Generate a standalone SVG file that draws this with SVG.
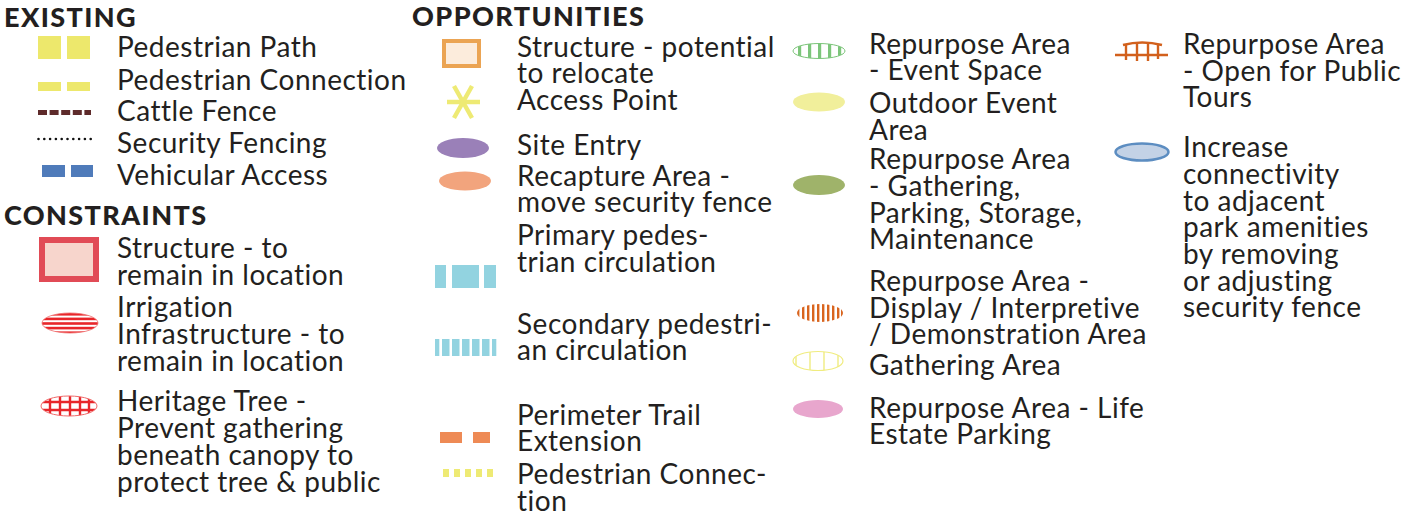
<svg xmlns="http://www.w3.org/2000/svg" width="1401" height="523" viewBox="0 0 1401 523">
  <style>
    .t { font-family: Lato, "Open Sans", sans-serif; font-size: 28px; letter-spacing: 0.5px; fill: #231f20; }
    .h { font-family: Lato, "Open Sans", sans-serif; font-size: 27px; letter-spacing: 1.4px; font-weight: 900; fill: #231f20; }
  </style>
  <defs>
    <clipPath id="clipIrr"><ellipse cx="70" cy="323" rx="28" ry="10"/></clipPath>
    <clipPath id="clipTree"><ellipse cx="69" cy="406" rx="28" ry="10"/></clipPath>
    <clipPath id="clipEvent"><ellipse cx="819" cy="51" rx="26" ry="7.5"/></clipPath>
    <clipPath id="clipDisplay"><ellipse cx="820" cy="313" rx="23" ry="9"/></clipPath>
    <clipPath id="clipGather"><ellipse cx="818" cy="361" rx="25" ry="9.5"/></clipPath>
  </defs>
  <rect width="1401" height="523" fill="#ffffff"/>

  <!-- Section headings -->
  <g id="headings">
    <text class="h" x="4" y="27">EXISTING</text>
    <text class="h" x="412" y="26">OPPORTUNITIES</text>
    <text class="h" x="4" y="225">CONSTRAINTS</text>
  </g>

  <!-- EXISTING -->
  <g id="pedestrian-path">
    <rect x="38" y="36" width="23" height="23" fill="#ede86c"/>
    <rect x="67" y="36" width="23" height="23" fill="#ede86c"/>
    <text class="t" x="117" y="57">Pedestrian Path</text>
  </g>
  <g id="pedestrian-connection">
    <rect x="38" y="82" width="23" height="9" fill="#ede86c"/>
    <rect x="67" y="82" width="23" height="9" fill="#ede86c"/>
    <text class="t" x="117" y="90">Pedestrian Connection</text>
  </g>
  <g id="cattle-fence">
    <line x1="38" y1="112.5" x2="91" y2="112.5" stroke="#5e2b2b" stroke-width="5" stroke-dasharray="9 2.6"/>
    <text class="t" x="117" y="121">Cattle Fence</text>
  </g>
  <g id="security-fencing">
    <line x1="38.5" y1="139" x2="91" y2="139" stroke="#111111" stroke-width="2.6" stroke-linecap="round" stroke-dasharray="0 5.8"/>
    <text class="t" x="117" y="153">Security Fencing</text>
  </g>
  <g id="vehicular-access">
    <rect x="42" y="165" width="23" height="12" fill="#4f7bba"/>
    <rect x="71" y="165" width="22" height="12" fill="#4f7bba"/>
    <text class="t" x="117" y="185">Vehicular Access</text>
  </g>

  <!-- CONSTRAINTS -->
  <g id="structure-remain">
    <rect x="42" y="240" width="54" height="39" fill="#f7d5cc" stroke="#e14b56" stroke-width="6"/>
    <text class="t" x="117" y="258">Structure - to</text>
    <text class="t" x="117" y="285">remain in location</text>
  </g>
  <g id="irrigation">
    <g clip-path="url(#clipIrr)">
      <rect x="42" y="313" width="56" height="20" fill="#ffffff"/>
      <g fill="#e8262a">
        <rect x="42" y="313" width="56" height="2.6"/>
        <rect x="42" y="317.6" width="56" height="2.6"/>
        <rect x="42" y="322.2" width="56" height="2.6"/>
        <rect x="42" y="326.8" width="56" height="2.6"/>
        <rect x="42" y="331.4" width="56" height="2.6"/>
      </g>
    </g>
    <ellipse cx="70" cy="323" rx="28" ry="10" fill="none" stroke="#f06a6a" stroke-width="0.8"/>
    <text class="t" x="117" y="317">Irrigation</text>
    <text class="t" x="117" y="344">Infrastructure - to</text>
    <text class="t" x="117" y="371">remain in location</text>
  </g>
  <g id="heritage-tree">
    <g clip-path="url(#clipTree)" stroke="#e8262a" stroke-width="2.4">
      <line x1="41" y1="402" x2="97" y2="402"/>
      <line x1="41" y1="410" x2="97" y2="410"/>
      <line x1="50" y1="395" x2="50" y2="417"/>
      <line x1="60" y1="395" x2="60" y2="417"/>
      <line x1="70" y1="395" x2="70" y2="417"/>
      <line x1="80" y1="395" x2="80" y2="417"/>
      <line x1="89" y1="395" x2="89" y2="417"/>
    </g>
    <ellipse cx="69" cy="406" rx="28" ry="10" fill="none" stroke="#f06a6a" stroke-width="1"/>
    <text class="t" x="117" y="411">Heritage Tree -</text>
    <text class="t" x="117" y="438">Prevent gathering</text>
    <text class="t" x="117" y="465">beneath canopy to</text>
    <text class="t" x="117" y="492">protect tree &amp; public</text>
  </g>

  <!-- OPPORTUNITIES -->
  <g id="structure-relocate">
    <rect x="444" y="41" width="35" height="25" fill="#fcecdc" stroke="#eba453" stroke-width="4"/>
    <text class="t" x="517" y="57">Structure - potential</text>
    <text class="t" x="517" y="83">to relocate</text>
  </g>
  <g id="access-point">
    <g stroke="#eeea74" stroke-width="4.5" stroke-linecap="butt">
      <line x1="447" y1="102" x2="480" y2="102"/>
      <line x1="454" y1="86" x2="472" y2="118"/>
      <line x1="472" y1="86" x2="454" y2="118"/>
    </g>
    <text class="t" x="517" y="110">Access Point</text>
  </g>
  <g id="site-entry">
    <ellipse cx="463" cy="148" rx="26" ry="10" fill="#9a80b8"/>
    <text class="t" x="517" y="155">Site Entry</text>
  </g>
  <g id="recapture-area">
    <ellipse cx="465" cy="181" rx="26" ry="9.5" fill="#f2a47d"/>
    <text class="t" x="517" y="186">Recapture Area -</text>
    <text class="t" x="517" y="212">move security fence</text>
  </g>
  <g id="primary-pedestrian">
    <rect x="435" y="265" width="11" height="23" fill="#92d3e0"/>
    <rect x="452" y="265" width="27" height="23" fill="#92d3e0"/>
    <rect x="484" y="265" width="12" height="23" fill="#92d3e0"/>
    <text class="t" x="517" y="245">Primary pedes-</text>
    <text class="t" x="517" y="272">trian circulation</text>
  </g>
  <g id="secondary-pedestrian" fill="#92d3e0">
    <rect x="435" y="339" width="4.3" height="17"/>
    <rect x="442" y="339" width="7.5" height="17"/>
    <rect x="452" y="339" width="7.5" height="17"/>
    <rect x="462" y="339" width="7.5" height="17"/>
    <rect x="472" y="339" width="7.5" height="17"/>
    <rect x="482" y="339" width="7.5" height="17"/>
    <rect x="492" y="339" width="4.3" height="17"/>
    <text class="t" x="517" y="334">Secondary pedestri-</text>
    <text class="t" x="517" y="360">an circulation</text>
  </g>
  <g id="perimeter-trail">
    <rect x="440" y="432" width="22" height="11" fill="#ee8a55"/>
    <rect x="473" y="432" width="17" height="11" fill="#ee8a55"/>
    <text class="t" x="517" y="425">Perimeter Trail</text>
    <text class="t" x="517" y="451">Extension</text>
  </g>
  <g id="pedestrian-connection-new" fill="#eeea74">
    <rect x="443" y="469" width="6" height="8"/>
    <rect x="454" y="469" width="6" height="8"/>
    <rect x="465" y="469" width="6" height="8"/>
    <rect x="476" y="469" width="6" height="8"/>
    <rect x="487" y="469" width="6" height="8"/>
    <text class="t" x="517" y="484">Pedestrian Connec-</text>
    <text class="t" x="517" y="511">tion</text>
  </g>

  <g id="event-space">
    <g clip-path="url(#clipEvent)" fill="#7cc57a">
      <rect x="798" y="42" width="3.2" height="18"/>
      <rect x="808" y="42" width="3.2" height="18"/>
      <rect x="818" y="42" width="3.2" height="18"/>
      <rect x="828" y="42" width="3.2" height="18"/>
      <rect x="838" y="42" width="3.2" height="18"/>
    </g>
    <ellipse cx="819" cy="51" rx="26" ry="7.5" fill="none" stroke="#7cc57a" stroke-width="1"/>
    <text class="t" x="869" y="54">Repurpose Area</text>
    <text class="t" x="869" y="80">- Event Space</text>
  </g>
  <g id="outdoor-event">
    <ellipse cx="819" cy="102" rx="26" ry="9.5" fill="#f1ef9b"/>
    <text class="t" x="869" y="113">Outdoor Event</text>
    <text class="t" x="869" y="140">Area</text>
  </g>
  <g id="gathering-parking">
    <ellipse cx="819" cy="185" rx="26" ry="10" fill="#9fb36a"/>
    <text class="t" x="869" y="169">Repurpose Area</text>
    <text class="t" x="869" y="196">- Gathering,</text>
    <text class="t" x="869" y="223">Parking, Storage,</text>
    <text class="t" x="869" y="249">Maintenance</text>
  </g>
  <g id="display-area">
    <g clip-path="url(#clipDisplay)" fill="#d9651f">
      <rect x="797" y="303" width="2.4" height="20"/>
      <rect x="802" y="303" width="2.4" height="20"/>
      <rect x="807" y="303" width="2.4" height="20"/>
      <rect x="812" y="303" width="2.4" height="20"/>
      <rect x="817" y="303" width="2.4" height="20"/>
      <rect x="822" y="303" width="2.4" height="20"/>
      <rect x="827" y="303" width="2.4" height="20"/>
      <rect x="832" y="303" width="2.4" height="20"/>
      <rect x="837" y="303" width="2.4" height="20"/>
      <rect x="841" y="303" width="2.4" height="20"/>
    </g>
    <text class="t" x="869" y="291">Repurpose Area -</text>
    <text class="t" x="869" y="318">Display / Interpretive</text>
    <text class="t" x="869" y="344">/ Demonstration Area</text>
  </g>
  <g id="gathering-area">
    <g clip-path="url(#clipGather)" stroke="#f0ec80" stroke-width="1.4">
      <line x1="796" y1="350" x2="796" y2="372"/>
      <line x1="810" y1="350" x2="810" y2="372"/>
      <line x1="824" y1="350" x2="824" y2="372"/>
      <line x1="838" y1="350" x2="838" y2="372"/>
    </g>
    <ellipse cx="818" cy="361" rx="25" ry="9.5" fill="none" stroke="#f0ec80" stroke-width="1.2"/>
    <text class="t" x="869" y="375">Gathering Area</text>
  </g>
  <g id="life-estate-parking">
    <ellipse cx="818" cy="409" rx="25" ry="9" fill="#e8a6cd"/>
    <text class="t" x="869" y="418">Repurpose Area - Life</text>
    <text class="t" x="869" y="444">Estate Parking</text>
  </g>

  <g id="public-tours">
    <g stroke="#d2601c" stroke-width="2.4" fill="none">
      <line x1="1115" y1="55" x2="1168" y2="55"/>
      <path d="M1123,45 Q1142,40 1162,45"/>
      <line x1="1126" y1="44" x2="1126" y2="60"/>
      <line x1="1137" y1="43" x2="1137" y2="61"/>
      <line x1="1148" y1="43" x2="1148" y2="61"/>
      <line x1="1158" y1="44" x2="1158" y2="59"/>
    </g>
    <text class="t" x="1183" y="54">Repurpose Area</text>
    <text class="t" x="1183" y="81">- Open for Public</text>
    <text class="t" x="1183" y="107">Tours</text>
  </g>
  <g id="increase-connectivity">
    <ellipse cx="1142" cy="152" rx="26.5" ry="8.5" fill="#c3d2e6" stroke="#5c8dc1" stroke-width="2.5"/>
    <text class="t" x="1183" y="157">Increase</text>
    <text class="t" x="1183" y="184">connectivity</text>
    <text class="t" x="1183" y="211">to adjacent</text>
    <text class="t" x="1183" y="237">park amenities</text>
    <text class="t" x="1183" y="264">by removing</text>
    <text class="t" x="1183" y="291">or adjusting</text>
    <text class="t" x="1183" y="317">security fence</text>
  </g>
</svg>
